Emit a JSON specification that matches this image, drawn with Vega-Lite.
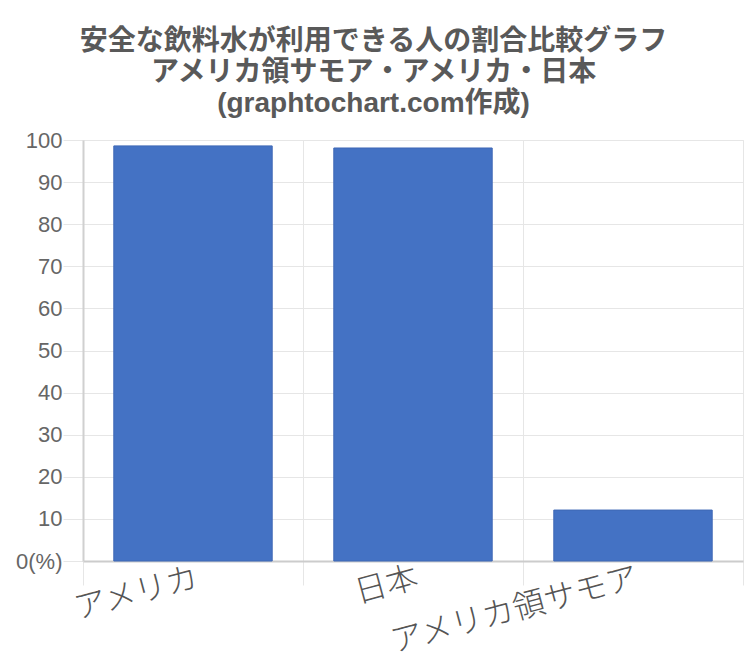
{
  "$schema": "https://vega.github.io/schema/vega-lite/v6.json",
  "autosize": "none",
  "width": 660,
  "height": 421,
  "padding": {"left": 83, "top": 140, "right": 7, "bottom": 105},
  "background": "white",
  "title": {
    "text": ["安全な飲料水が利用できる人の割合比較グラフ", "アメリカ領サモア・アメリカ・日本", "(graphtochart.com作成)"],
    "font": "Liberation Sans, Noto Sans CJK JP",
    "fontSize": 28,
    "fontWeight": "bold",
    "color": "#595959",
    "lineHeight": 31,
    "anchor": "middle",
    "frame": "bounds",
    "dx": -6,
    "offset": 11
  },
  "data": {
    "values": [
      {"country": "アメリカ", "value": 98.6},
      {"country": "日本", "value": 98.1},
      {"country": "アメリカ領サモア", "value": 12.1}
    ]
  },
  "mark": {"type": "bar", "color": "#4472C4", "stroke": "#3f68b5", "strokeWidth": 1, "width": {"band": 0.72}},
  "encoding": {
    "x": {
      "field": "country",
      "type": "nominal",
      "sort": null,
      "scale": {"paddingInner": 0, "paddingOuter": 0},
      "axis": {
        "title": null,
        "tickBand": "extent",
        "labelAngle": 345,
        "labelAlign": "right",
        "labelBaseline": "top",
        "labelPadding": -23,
        "labelLimit": 0,
        "labelFont": "Noto Sans CJK JP",
        "labelFontSize": 32,
        "labelFontWeight": 300,
        "labelColor": "#555555",
        "tickSize": 24,
        "tickColor": "#e6e6e6",
        "grid": true,
        "gridColor": "#e6e6e6",
        "domainColor": "#cccccc",
        "domainWidth": 2
      }
    },
    "y": {
      "field": "value",
      "type": "quantitative",
      "scale": {"domain": [0, 100]},
      "axis": {
        "title": null,
        "values": [0, 10, 20, 30, 40, 50, 60, 70, 80, 90, 100],
        "labelExpr": "datum.value == 0 ? '0(%)' : datum.label",
        "labelFont": "Liberation Sans",
        "labelFontSize": 22,
        "labelColor": "#666666",
        "labelPadding": 1,
        "tickSize": 20,
        "tickColor": "#e6e6e6",
        "gridColor": "#e6e6e6",
        "domainColor": "#d0d0d0",
        "domainWidth": 2
      }
    }
  },
  "config": {
    "view": {"stroke": "#e6e6e6"}
  }
}
